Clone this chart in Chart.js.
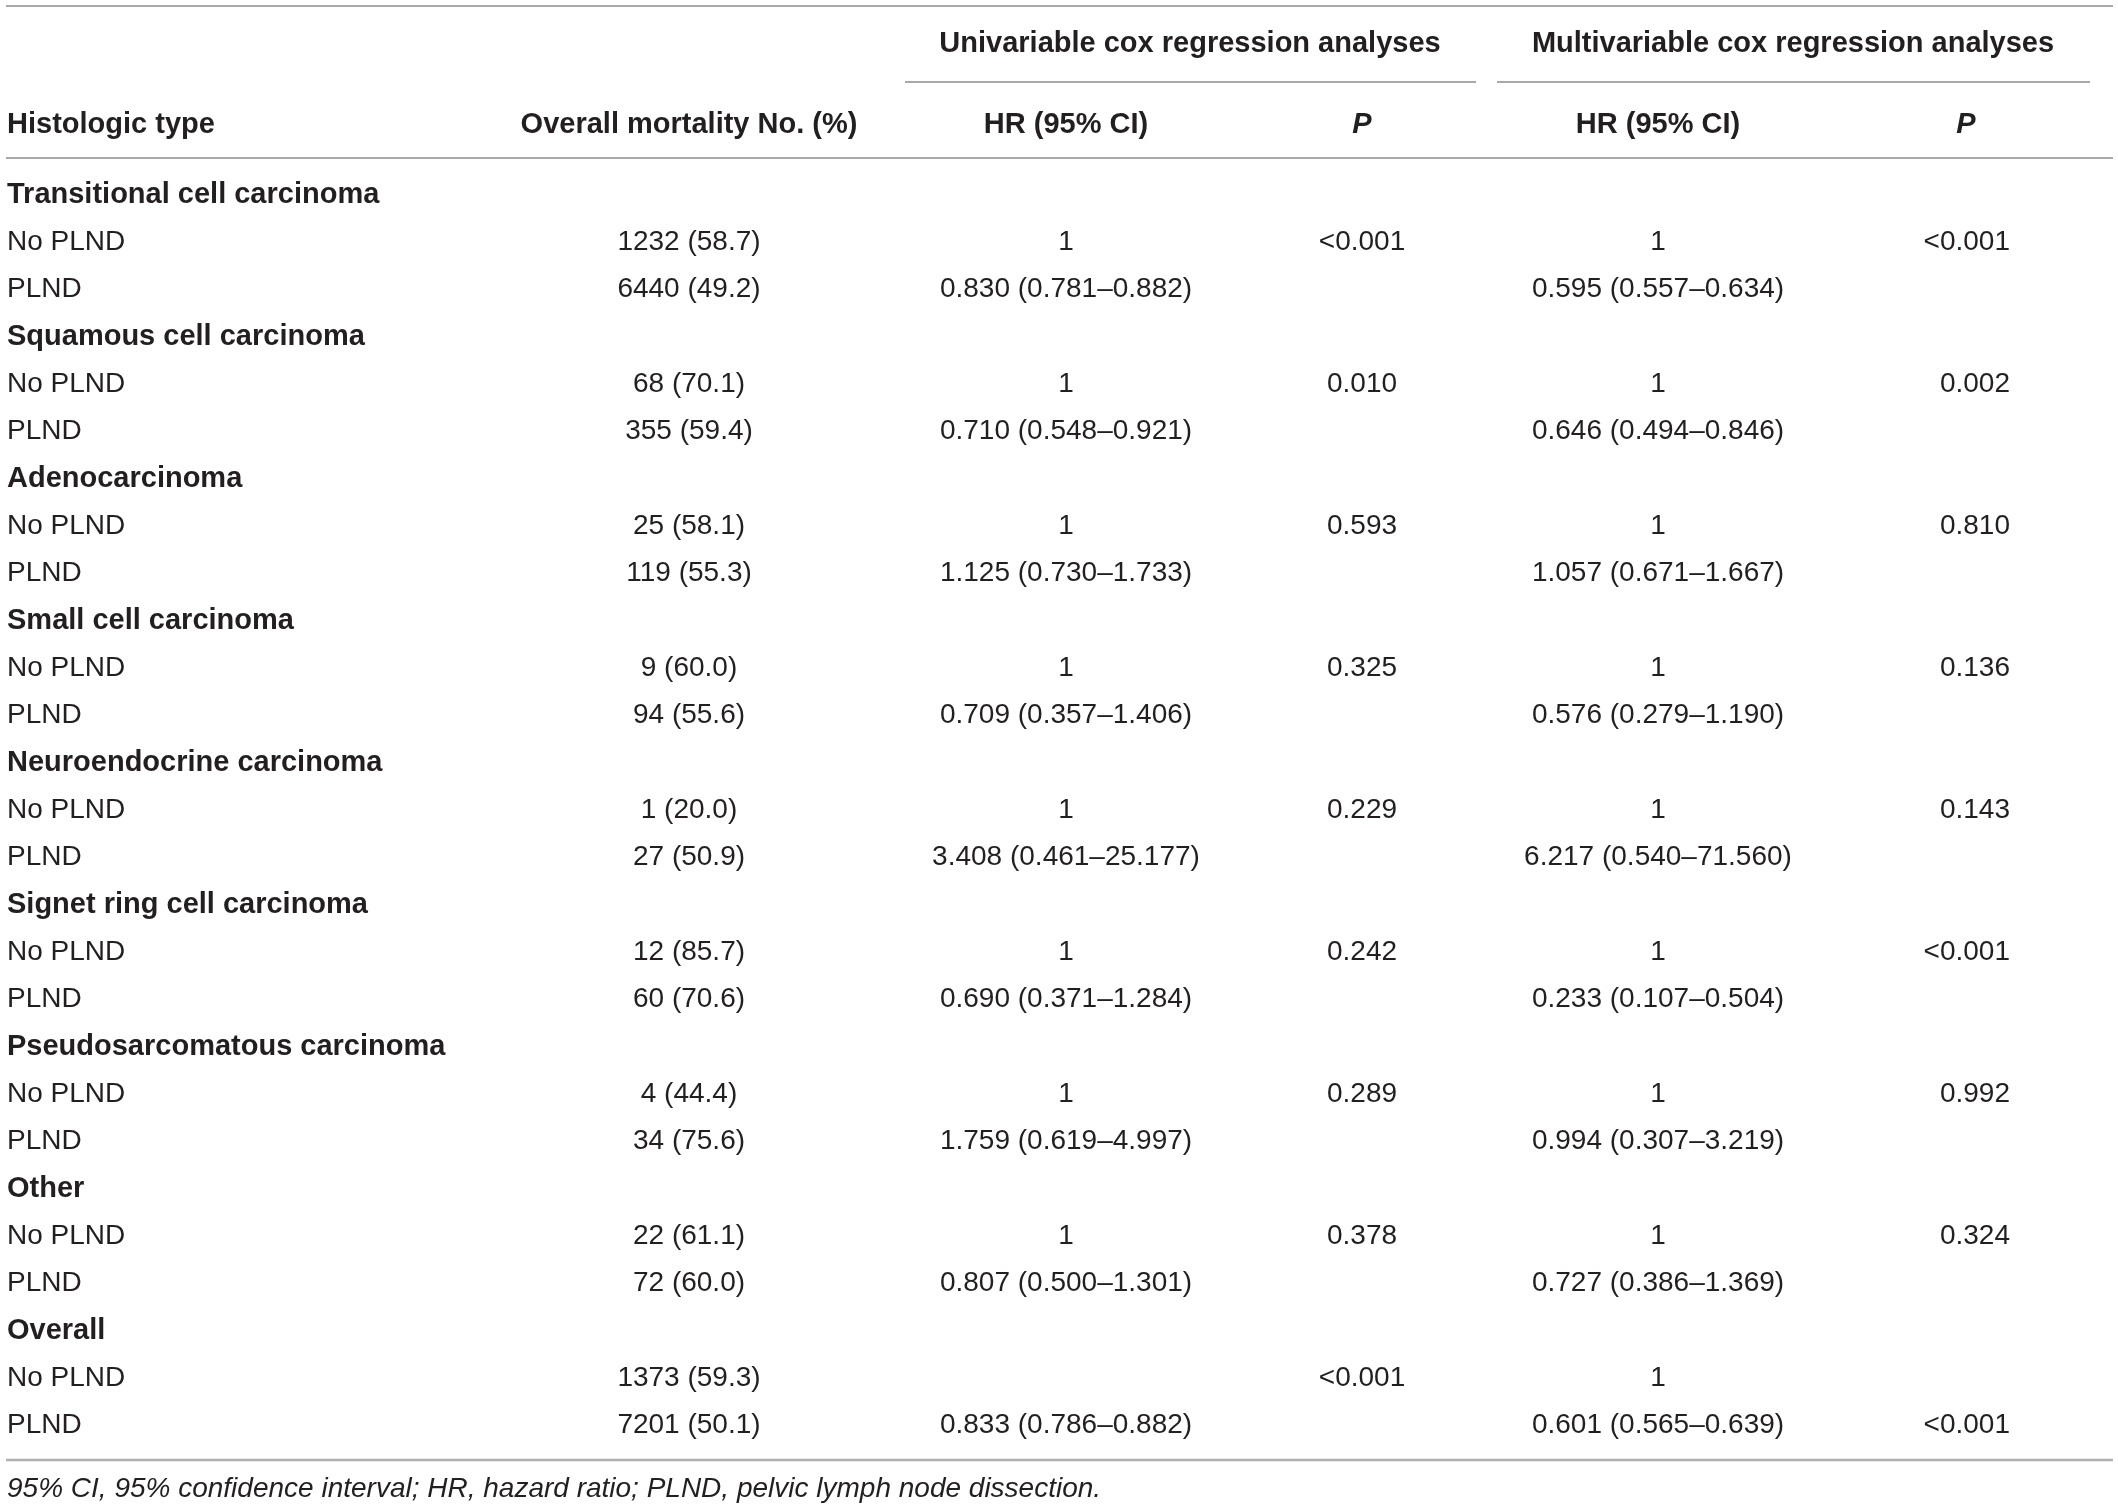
<!DOCTYPE html>
<html>
<head>
<meta charset="utf-8">
<script src="https://cdn.jsdelivr.net/npm/chart.js@4/dist/chart.umd.min.js"></script>
<style>
  html, body { margin: 0; padding: 0; background: #ffffff; }
  #wrap { width: 2118px; height: 1508px; }
</style>
</head>
<body>
<div id="wrap"><canvas id="c" width="2118" height="1508"></canvas></div>
<script>
// ---------------- DATA ----------------
const groups = ['Transitional cell carcinoma', 'Squamous cell carcinoma', 'Adenocarcinoma',
  'Small cell carcinoma', 'Neuroendocrine carcinoma', 'Signet ring cell carcinoma',
  'Pseudosarcomatous carcinoma', 'Other', 'Overall'];
const arms = ['No PLND', 'PLND'];
const mortalityNoPLND = ['1232 (58.7)', '68 (70.1)', '25 (58.1)', '9 (60.0)', '1 (20.0)', '12 (85.7)', '4 (44.4)', '22 (61.1)', '1373 (59.3)'];
const mortalityPLND = ['6440 (49.2)', '355 (59.4)', '119 (55.3)', '94 (55.6)', '27 (50.9)', '60 (70.6)', '34 (75.6)', '72 (60.0)', '7201 (50.1)'];
const uniHRNoPLND = ['1', '1', '1', '1', '1', '1', '1', '1', ''];
const uniHRPLND = ['0.830 (0.781–0.882)', '0.710 (0.548–0.921)', '1.125 (0.730–1.733)', '0.709 (0.357–1.406)', '3.408 (0.461–25.177)', '0.690 (0.371–1.284)', '1.759 (0.619–4.997)', '0.807 (0.500–1.301)', '0.833 (0.786–0.882)'];
const uniPNoPLND = ['<0.001', '0.010', '0.593', '0.325', '0.229', '0.242', '0.289', '0.378', '<0.001'];
const uniPPLND = ['', '', '', '', '', '', '', '', ''];
const multiHRNoPLND = ['1', '1', '1', '1', '1', '1', '1', '1', '1'];
const multiHRPLND = ['0.595 (0.557–0.634)', '0.646 (0.494–0.846)', '1.057 (0.671–1.667)', '0.576 (0.279–1.190)', '6.217 (0.540–71.560)', '0.233 (0.107–0.504)', '0.994 (0.307–3.219)', '0.727 (0.386–1.369)', '0.601 (0.565–0.639)'];
const multiPNoPLND = ['<0.001', '0.002', '0.810', '0.136', '0.143', '<0.001', '0.992', '0.324', ''];
const multiPPLND = ['', '', '', '', '', '', '', '', '<0.001'];

const groupHeaders = ['Univariable cox regression analyses', 'Multivariable cox regression analyses'];
const columnHeaders = ['Histologic type', 'Overall mortality No. (%)', 'HR (95% CI)', 'P', 'HR (95% CI)', 'P'];
const footnote = '95% CI, 95% confidence interval; HR, hazard ratio; PLND, pelvic lymph node dissection.';

// ---------------- BUILD ROWS ----------------
const rows = [];
groups.forEach((g, i) => {
  rows.push({ bold: true, cells: [g, '', '', '', '', ''] });
  rows.push({ bold: false, cells: [arms[0], mortalityNoPLND[i], uniHRNoPLND[i], uniPNoPLND[i], multiHRNoPLND[i], multiPNoPLND[i]] });
  rows.push({ bold: false, cells: [arms[1], mortalityPLND[i], uniHRPLND[i], uniPPLND[i], multiHRPLND[i], multiPPLND[i]] });
});
const rowIds = rows.map((r, i) => 'row' + i);

// ---------------- LAYOUT (style, not data) ----------------
const FONT = '"Liberation Sans", Arial, Helvetica, sans-serif';
const TEXT = '#231f20';
const colX = [7, 689, 1066, 1362, 1658, 2010];
const colAlign = ['left', 'center', 'center', 'center', 'center', 'right'];
const headerColX = [7, 689, 1066, 1362, 1658, 1966];
const headerColAlign = ['left', 'center', 'center', 'center', 'center', 'center'];
const groupHeaderX = [1190, 1793];
const groupLineSpans = [[905, 1476], [1497, 2090]];
const L = {
  topLine: 6, groupHeaderBase: 52, groupLine: 82, colHeaderBase: 133, headerLine: 158,
  bottomLine: 1460, footBase: 1497, left: 6, right: 2113, fontSize: 28, boldSize: 29, footSize: 28
};

const tablePlugin = {
  id: 'tableText',
  afterDraw(chart) {
    const ctx = chart.ctx;
    const xs = chart.scales.x, ys = chart.scales.y;
    const fs = L.fontSize, bs = L.boldSize;
    ctx.save();
    const hline = (y, x1, x2, color, w) => {
      ctx.beginPath();
      ctx.strokeStyle = color; ctx.lineWidth = w;
      ctx.moveTo(xs.getPixelForValue(x1), y);
      ctx.lineTo(xs.getPixelForValue(x2), y);
      ctx.stroke();
    };
    hline(L.topLine, L.left, L.right, '#8c8c8c', 1.6);
    groupLineSpans.forEach(s => hline(L.groupLine, s[0], s[1], '#8c8c8c', 1.6));
    hline(L.headerLine, L.left, L.right, '#8c8c8c', 1.6);
    hline(L.bottomLine, L.left, L.right, '#b0b0b0', 2.6);

    ctx.fillStyle = TEXT;
    ctx.textBaseline = 'alphabetic';
    // group headers
    ctx.font = 'bold ' + bs + 'px ' + FONT;
    ctx.textAlign = 'center';
    groupHeaders.forEach((t, i) => ctx.fillText(t, xs.getPixelForValue(groupHeaderX[i]), L.groupHeaderBase));
    // column headers
    columnHeaders.forEach((t, i) => {
      ctx.font = (t === 'P' ? 'italic bold ' : 'bold ') + bs + 'px ' + FONT;
      ctx.textAlign = headerColAlign[i];
      ctx.fillText(t, xs.getPixelForValue(headerColX[i]), L.colHeaderBase);
    });
    // body
    rows.forEach((r, ri) => {
      const y = ys.getPixelForValue(ri) + fs * 0.36;
      r.cells.forEach((t, ci) => {
        if (!t) return;
        ctx.font = r.bold ? ('bold ' + bs + 'px ' + FONT) : (fs + 'px ' + FONT);
        ctx.textAlign = colAlign[ci];
        ctx.fillText(t, xs.getPixelForValue(colX[ci]), y);
      });
    });
    // footnote
    ctx.font = 'italic ' + L.footSize + 'px ' + FONT;
    ctx.textAlign = 'left';
    ctx.fillText(footnote, xs.getPixelForValue(7), L.footBase);
    ctx.restore();
  }
};

new Chart(document.getElementById('c'), {
  type: 'scatter',
  data: { datasets: [{ data: [], pointRadius: 0 }] },
  options: {
    responsive: false,
    animation: false,
    devicePixelRatio: 1,
    layout: { padding: { top: 169, bottom: 61, left: 0, right: 0 } },
    plugins: { legend: { display: false }, tooltip: { enabled: false } },
    scales: {
      x: { type: 'linear', min: 0, max: 2118, display: false },
      y: { type: 'category', labels: rowIds, offset: true, display: false }
    }
  },
  plugins: [tablePlugin]
});
</script>
</body>
</html>
